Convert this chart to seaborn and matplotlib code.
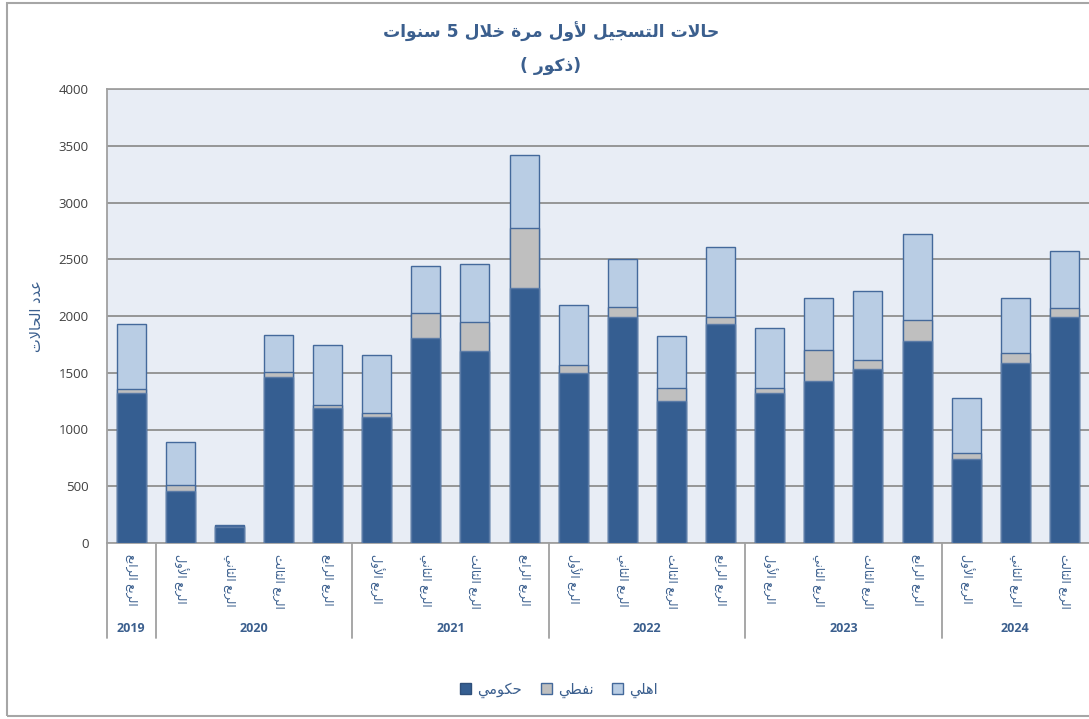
import re
import numpy as np
import pandas as pd
import matplotlib
matplotlib.use("Agg")
import matplotlib.pyplot as plt
from matplotlib.patches import Rectangle, Patch
from matplotlib.lines import Line2D
import seaborn as sns

# ---------------- data ----------------
year_labels = ['2019', '2020', '2021', '2022', '2023', '2024']
year_counts = [1, 4, 4, 4, 4, 3]
quarters = ['الربع الرابع',
            'الربع الأول', 'الربع الثاني', 'الربع الثالث', 'الربع الرابع',
            'الربع الأول', 'الربع الثاني', 'الربع الثالث', 'الربع الرابع',
            'الربع الأول', 'الربع الثاني', 'الربع الثالث', 'الربع الرابع',
            'الربع الأول', 'الربع الثاني', 'الربع الثالث', 'الربع الرابع',
            'الربع الأول', 'الربع الثاني', 'الربع الثالث']
gov = [1318, 459, 143, 1465, 1191, 1112, 1803, 1691, 2247, 1500,
       1994, 1247, 1926, 1323, 1426, 1529, 1776, 744, 1582, 1988]
oil = [38, 50, 4, 44, 21, 35, 220, 253, 526, 70,
       85, 121, 65, 45, 277, 86, 186, 47, 94, 82]
private = [570, 379, 15, 323, 535, 512, 418, 515, 645, 524,
           424, 455, 618, 529, 456, 605, 758, 488, 483, 503]
series_names = ['حكومي', 'نفطي', 'اهلي']
title_line1 = 'حالات التسجيل لأول مرة خلال 5 سنوات'
title_line2 = '(ذكور )'
ylabel = 'عدد الحالات'
yticks = [0, 500, 1000, 1500, 2000, 2500, 3000, 3500, 4000]

# ---------------- minimal Arabic shaping (presentation forms, visual order) ----------------
AR = {
    'ا': ('\uFE8D', '\uFE8E', None, None),
    'أ': ('\uFE83', '\uFE84', None, None),
    'ب': ('\uFE8F', '\uFE90', '\uFE91', '\uFE92'),
    'ة': ('\uFE93', '\uFE94', None, None),
    'ت': ('\uFE95', '\uFE96', '\uFE97', '\uFE98'),
    'ث': ('\uFE99', '\uFE9A', '\uFE9B', '\uFE9C'),
    'ج': ('\uFE9D', '\uFE9E', '\uFE9F', '\uFEA0'),
    'ح': ('\uFEA1', '\uFEA2', '\uFEA3', '\uFEA4'),
    'خ': ('\uFEA5', '\uFEA6', '\uFEA7', '\uFEA8'),
    'د': ('\uFEA9', '\uFEAA', None, None),
    'ذ': ('\uFEAB', '\uFEAC', None, None),
    'ر': ('\uFEAD', '\uFEAE', None, None),
    'س': ('\uFEB1', '\uFEB2', '\uFEB3', '\uFEB4'),
    'ط': ('\uFEC1', '\uFEC2', '\uFEC3', '\uFEC4'),
    'ع': ('\uFEC9', '\uFECA', '\uFECB', '\uFECC'),
    'ف': ('\uFED1', '\uFED2', '\uFED3', '\uFED4'),
    'ك': ('\uFED9', '\uFEDA', '\uFEDB', '\uFEDC'),
    'ل': ('\uFEDD', '\uFEDE', '\uFEDF', '\uFEE0'),
    'م': ('\uFEE1', '\uFEE2', '\uFEE3', '\uFEE4'),
    'ن': ('\uFEE5', '\uFEE6', '\uFEE7', '\uFEE8'),
    'ه': ('\uFEE9', '\uFEEA', '\uFEEB', '\uFEEC'),
    'و': ('\uFEED', '\uFEEE', None, None),
    'ي': ('\uFEF1', '\uFEF2', '\uFEF3', '\uFEF4'),
}
LAM_ALEF = {'ا': ('\uFEFB', '\uFEFC'), 'أ': ('\uFEF7', '\uFEF8')}


def _joins_next(c):
    return c in AR and AR[c][2] is not None


def shape(text):
    ch = list(text)
    n = len(ch)
    out = []
    i = 0
    while i < n:
        c = ch[i]
        if c not in AR:
            out.append(c)
            i += 1
            continue
        pc = i > 0 and _joins_next(ch[i - 1])
        if c == 'ل' and i + 1 < n and ch[i + 1] in LAM_ALEF:
            iso, fin = LAM_ALEF[ch[i + 1]]
            out.append(fin if pc else iso)
            i += 2
            continue
        nc = _joins_next(c) and i + 1 < n and ch[i + 1] in AR
        iso, fin, ini, med = AR[c]
        out.append(med if (pc and nc) else fin if pc else ini if nc else iso)
        i += 1
    vis = out[::-1]
    mirror = {'(': ')', ')': '('}
    s = ''.join(mirror.get(c, c) for c in vis)
    s = re.sub(r'[0-9]+', lambda m: m.group(0)[::-1], s)
    return s


# ---------------- styling ----------------
sns.set_style("white")
plt.rcParams['font.family'] = ['DejaVu Sans']

BLUE_TXT = '#3b5f8e'
C_GOV = '#355e91'
C_OIL = '#bfbfbf'
C_PRI = '#b9cde4'
EDGE = '#44699b'
BG = '#e8edf5'
GRID = '#8f8f8f'

W, H = 1089, 719
fig = plt.figure(figsize=(W / 100, H / 100), dpi=100)
ax = fig.add_axes([106.5 / W, 1 - 543 / H, (1089 - 106.5) / W, (543 - 89) / H])
ax.set_facecolor(BG)

n = len(gov)
keys = [str(i) for i in range(n)]
df = pd.DataFrame({
    'key': keys,
    'gov': gov,
    'gov_oil': np.array(gov) + np.array(oil),
    'total': np.array(gov) + np.array(oil) + np.array(private),
})

common = dict(data=df, x='key', order=keys, width=0.59, saturation=1,
              errorbar=None, linewidth=1.0, ax=ax, zorder=3)
sns.barplot(y='total', color=C_PRI, edgecolor=EDGE, **common)
sns.barplot(y='gov_oil', color=C_OIL, edgecolor=EDGE, **common)
sns.barplot(y='gov', color=C_GOV, edgecolor='#5b7ba6', **common)

ax.set_xlim(-0.5, n - 0.5)
ax.set_ylim(0, 4000)
ax.set_yticks(yticks)
ax.set_yticklabels([str(v) for v in yticks], fontsize=9.5, color='#404040',
                   family=['Open Sans', 'DejaVu Sans'])
ax.yaxis.grid(True, color=GRID, linewidth=1.3, zorder=0)
ax.set_axisbelow(True)
ax.tick_params(axis='y', length=3, color='#a0a0a0', pad=10)
ax.tick_params(axis='x', length=0, pad=8)

ax.set_xticks(range(n))
ax.set_xticklabels([shape(q) for q in quarters], rotation=-90, va='top', ha='center',
                   fontsize=8.3, color=BLUE_TXT)
ax.set_xlabel('')
ax.set_ylabel(shape(ylabel), fontsize=10.5, color=BLUE_TXT)
ax.yaxis.set_label_coords(-0.064, 0.5)

for sp in ['left', 'top', 'bottom']:
    ax.spines[sp].set_color('#a0a0a0')
    ax.spines[sp].set_linewidth(1.3)
ax.spines['right'].set_visible(False)

# year group separators and labels
axh = 543 - 89
sep_bottom = -(638 - 543) / axh
year_y = -(628 - 543) / axh
trans = ax.get_xaxis_transform()
start = 0
bounds = [-0.5]
for yl, cnt in zip(year_labels, year_counts):
    end = start + cnt
    bounds.append(end - 0.5)
    ax.text((start + end - 1) / 2, year_y, yl, transform=trans, ha='center', va='center',
            fontsize=9, fontweight='bold', color=BLUE_TXT, family=['Open Sans', 'DejaVu Sans'])
    start = end
for b in bounds[:-1]:
    ax.add_line(Line2D([b, b], [0, sep_bottom], transform=trans, color='#a0a0a0',
                       linewidth=1.3, clip_on=False))

# titles
fig.text(551 / W, 1 - 32 / H, shape(title_line1), ha='center', va='center',
         fontsize=12.3, fontweight='bold', color=BLUE_TXT)
fig.text(551 / W, 1 - 66 / H, shape(title_line2), ha='center', va='center',
         fontsize=12.3, fontweight='bold', color=BLUE_TXT)

# legend
handles = [Patch(facecolor=C_GOV, edgecolor='#2f4f7a', linewidth=1),
           Patch(facecolor=C_OIL, edgecolor=EDGE, linewidth=1),
           Patch(facecolor=C_PRI, edgecolor=EDGE, linewidth=1)]
leg = fig.legend(handles, [shape(s) for s in series_names], loc='center',
                 bbox_to_anchor=(559 / W, 1 - 690 / H), ncol=3, frameon=False,
                 handlelength=0.75, handleheight=0.75, handletextpad=0.4, columnspacing=1.3,
                 fontsize=10.5)
for t in leg.get_texts():
    t.set_color(BLUE_TXT)

# outer frame
fig.patches.append(Rectangle((7 / W, 3 / H), 1.2, (716 - 3) / H, transform=fig.transFigure,
                             fill=False, edgecolor='#a6a6a6', linewidth=1.5))

fig.savefig('out.png', dpi=100)
